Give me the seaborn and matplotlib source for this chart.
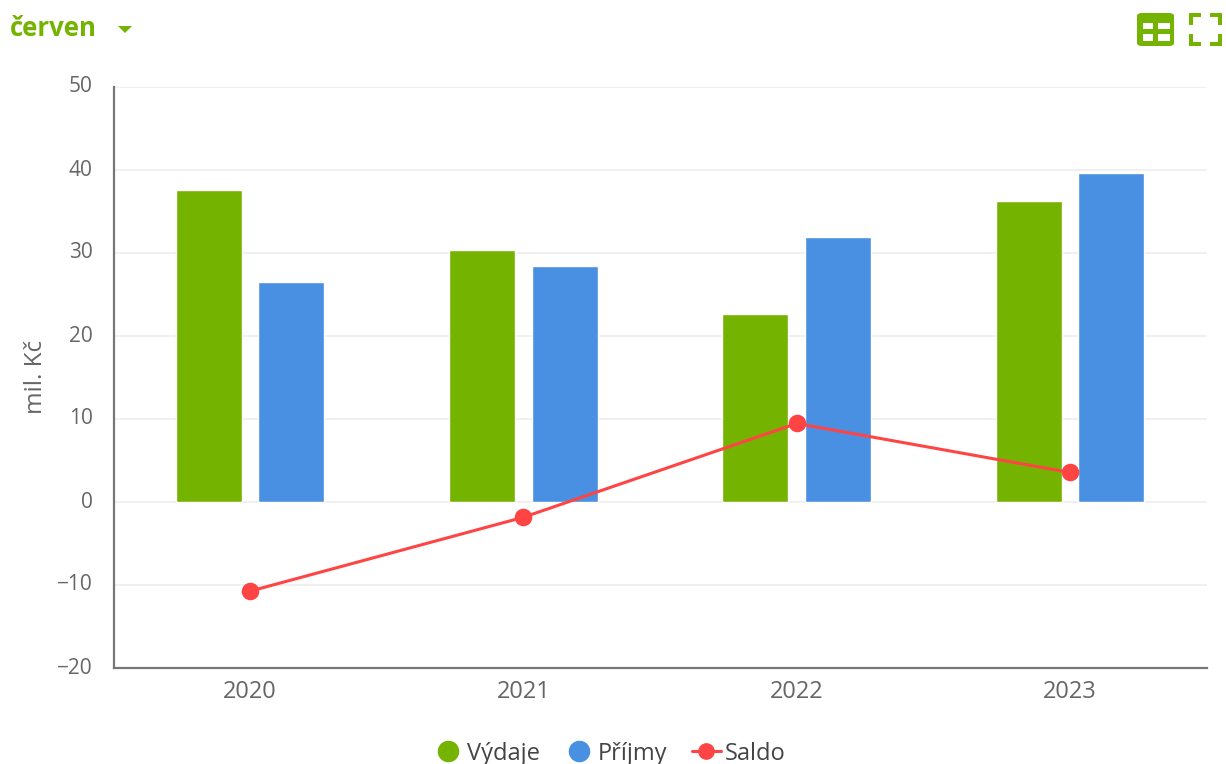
import pandas as pd
import seaborn as sns
import matplotlib.pyplot as plt
from matplotlib.lines import Line2D
from matplotlib.patches import FancyBboxPatch, Polygon, Rectangle
from matplotlib.transforms import ScaledTranslation

years = ['2020', '2021', '2022', '2023']
vydaje = [37.5, 30.3, 22.6, 36.2]
prijmy = [26.5, 28.4, 31.9, 39.6]
saldo = [-10.8, -1.9, 9.4, 3.5]
y_ticks = [-20, -10, 0, 10, 20, 30, 40, 50]
y_labels = ['\u221220', '\u221210', '0', '10', '20', '30', '40', '50']

green = '#74b300'
blue = '#4a90e2'
red = '#ff4444'
grey = '#666666'

sns.set_style('white')
plt.rcParams['font.family'] = ['Open Sans', 'DejaVu Sans']

df = pd.DataFrame({'rok': years * 2,
                   'hodnota': vydaje + prijmy,
                   'serie': ['Výdaje'] * 4 + ['Příjmy'] * 4})

fig = plt.figure(figsize=(12.26, 7.64), dpi=100)
ax = fig.add_axes([113.5 / 1226, 1 - 667.5 / 764, 1093 / 1226, 581 / 764])

sns.barplot(data=df, x='rok', y='hodnota', hue='serie', palette=[green, blue],
            width=0.604, gap=0.2, saturation=1, errorbar=None, legend=False,
            zorder=3, ax=ax)
sns.pointplot(x=years, y=saldo, color=red, markers='o', markersize=11, linewidth=2.2,
              errorbar=None, zorder=5, ax=ax)

ax.set_xlim(-0.5, 3.5)
ax.set_ylim(-20, 50)
ax.set_yticks(y_ticks, y_labels)
ax.set_xlabel('')
ax.set_ylabel('mil. Kč', fontsize=17.5, color=grey)
ax.yaxis.set_label_coords(-65 / 1093, 0.5)
ax.grid(axis='y', color='#eeeeee', linewidth=1.2, zorder=0)
ax.set_axisbelow(True)
ax.tick_params(axis='y', length=0, labelsize=15, labelcolor=grey, pad=15)
ax.tick_params(axis='x', length=13, width=1, color='#ccd6eb', labelsize=17, labelcolor=grey, pad=-4)
sns.despine(ax=ax, top=True, right=True)
for side in ['left', 'bottom']:
    ax.spines[side].set_color('#777777')
    ax.spines[side].set_linewidth(1.6)

# y labels sit a little above their gridlines
for label in ax.get_yticklabels():
    label.set_transform(label.get_transform() + ScaledTranslation(0, 2 / 100, fig.dpi_scale_trans))

handles = [
    Line2D([], [], linestyle='none', marker='o', markersize=14.5, color=green, label='Výdaje'),
    Line2D([], [], linestyle='none', marker='o', markersize=14.5, color=blue, label='Příjmy'),
    Line2D([], [], color=red, linewidth=2.2, marker='o', markersize=11, label='Saldo'),
]
fig.legend(handles=handles, loc='center', bbox_to_anchor=(610 / 1226, 1 - 753.5 / 764),
           ncol=3, frameon=False, fontsize=17, labelcolor='#444444', handlelength=1.2,
           handletextpad=0.2, columnspacing=1.05, borderpad=0)

# dropdown label in the top left corner
fig.text(10 / 1226, 1 - 29 / 764, 'červen', fontsize=18.5, fontweight='bold', color=green,
         va='center', ha='left')
fig.add_artist(Polygon([(118 / 1226, 1 - 26 / 764), (132 / 1226, 1 - 26 / 764), (125 / 1226, 1 - 33 / 764)],
                       transform=fig.transFigure, facecolor=green, edgecolor='none'))


def px_rect(x, y, w, h, color):
    fig.add_artist(Rectangle((x / 1226, 1 - (y + h) / 764), w / 1226, h / 764,
                             transform=fig.transFigure, facecolor=color, edgecolor='none'))


# table icon
fig.add_artist(FancyBboxPatch((1137 / 1226, 1 - 46 / 764), 37 / 1226, 33 / 764,
                              boxstyle='round,pad=0,rounding_size=0.004',
                              transform=fig.transFigure, facecolor=green, edgecolor='none'))
for x, w in [(1143, 10), (1158, 12)]:
    for y, h in [(23, 6), (34, 7)]:
        px_rect(x, y, w, h, 'white')

# fullscreen icon
for x, y, w, h in [(1189, 13, 12, 4), (1189, 13, 4, 12), (1210, 13, 12, 4), (1218, 13, 4, 12),
                   (1189, 42, 12, 4), (1189, 34, 4, 12), (1210, 42, 12, 4), (1218, 34, 4, 12)]:
    px_rect(x, y, w, h, green)

fig.savefig('out.png', dpi=100)
